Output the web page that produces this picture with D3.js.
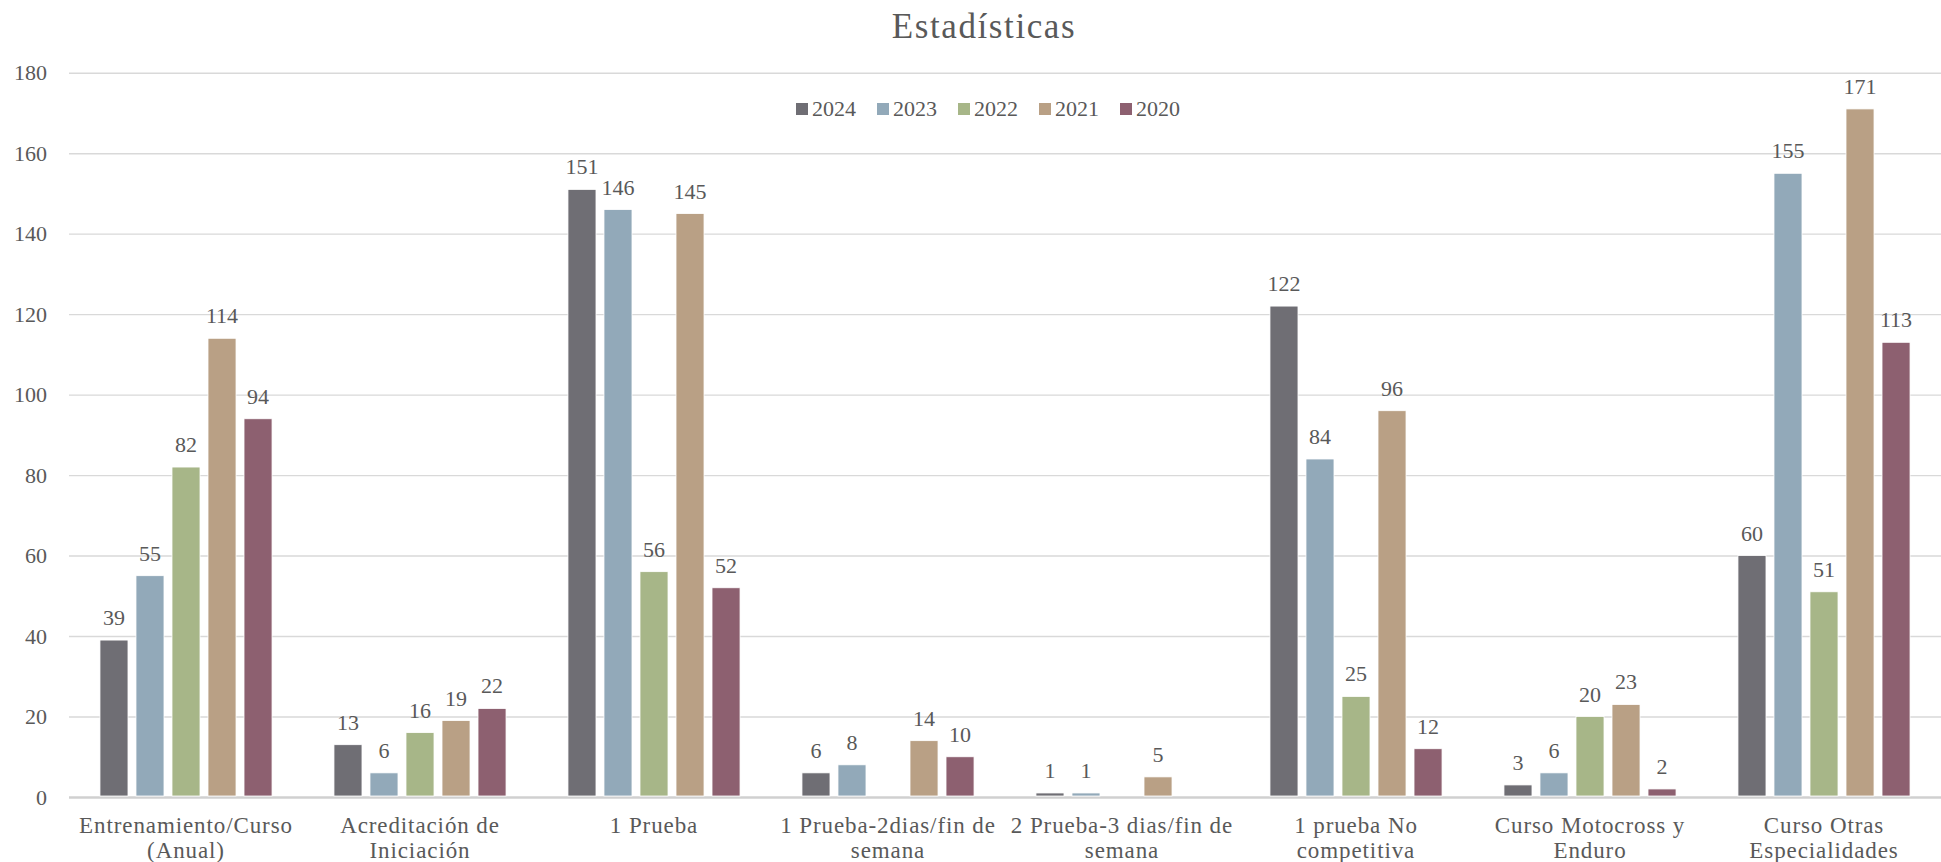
<!DOCTYPE html>
<html>
<head>
<meta charset="utf-8">
<script src="https://cdn.jsdelivr.net/npm/d3@7"></script>
<style>
  body { margin: 0; background: #fff; overflow: hidden; }
  text { font-family: "Liberation Serif", "DejaVu Serif", serif; fill: #595959; }
</style>
</head>
<body>
<script>
// chart data
let categories = [
  ["Entrenamiento/Curso", "(Anual)"],
  ["Acreditación de", "Iniciación"],
  ["1 Prueba"],
  ["1 Prueba-2dias/fin de", "semana"],
  ["2 Prueba-3 dias/fin de", "semana"],
  ["1 prueba No", "competitiva"],
  ["Curso Motocross y", "Enduro"],
  ["Curso Otras", "Especialidades"]
]
let years = ["2024", "2023", "2022", "2021", "2020"]
let v2024 = [39, 13, 151, 6, 1, 122, 3, 60]
let v2023 = [55, 6, 146, 8, 1, 84, 6, 155]
let v2022 = [82, 16, 56, null, null, 25, 20, 51]
let v2021 = [114, 19, 145, 14, 5, 96, 23, 171]
let v2020 = [94, 22, 52, 10, null, 12, 2, 113]
let yTicks = [0, 20, 40, 60, 80, 100, 120, 140, 160, 180]

let colorMap = ['#6f6e74', '#92a9b9', '#a7b688', '#b9a085', '#8d6070']
let series = [v2024, v2023, v2022, v2021, v2020]

let width = 1941, height = 862
let plotLeft = 69, plotRight = 1941

let svg = d3.select('body').append('svg')
  .attr('width', width).attr('height', height)

// title
svg.append('text')
  .attr('x', 984).attr('y', 38)
  .attr('text-anchor', 'middle')
  .style('font-size', '35px')
  .style('letter-spacing', '1.6px')
  .text('Estadísticas')

// scales
let x0 = d3.scaleBand()
  .domain(d3.range(categories.length))
  .range([plotLeft, plotRight])
let x1 = d3.scaleBand()
  .domain(years)
  .range([0, x0.bandwidth()])
  .paddingInner(0.222).paddingOuter(0.86)
let y = d3.scaleLinear().domain([0, 180]).range([797, 72.7])

// gridlines + y axis
let yAxis = svg.append('g')
  .attr('transform', 'translate(' + plotLeft + ',0)')
  .call(d3.axisLeft(y).tickValues(yTicks).tickSize(-(plotRight - plotLeft)).tickPadding(22))
yAxis.select('.domain').remove()
yAxis.selectAll('.tick line').attr('stroke', '#d9d9d9').attr('stroke-width', 1.4)
yAxis.selectAll('.tick text').style('font-size', '22px').attr('fill', '#595959')
yAxis.selectAll('.tick').filter(d => d == 0).select('line')
  .attr('stroke', '#d0d0d0').attr('stroke-width', 2.4)

// bars: one group per category, one entry per year
let groups = svg.selectAll('g.group')
  .data(categories).enter().append('g')
  .attr('class', 'group')
  .attr('transform', (d, i) => 'translate(' + x0(i) + ',0)')

let items = groups.selectAll('g.item')
  .data((d, i) => years.map((yr, k) => ({year: yr, k: k, value: series[k][i]}))
                       .filter(e => e.value != null))
  .enter().append('g').attr('class', 'item')

items.append('rect')
  .attr('x', d => x1(d.year))
  .attr('width', x1.bandwidth())
  .attr('y', d => y(d.value))
  .attr('height', d => y(0) - 1 - y(d.value))
  .attr('fill', d => colorMap[d.k])
  .attr('stroke', '#ffffff').attr('stroke-width', 0.8)

items.append('text')
  .attr('x', d => x1(d.year) + x1.bandwidth() / 2)
  .attr('y', d => y(d.value) - 15)
  .attr('text-anchor', 'middle')
  .style('font-size', '22px')
  .attr('fill', '#404040')
  .text(d => d.value)

// category labels
categories.forEach((lines, i) => {
  let t = svg.append('text')
    .attr('text-anchor', 'middle')
    .style('font-size', '23px')
    .style('letter-spacing', '0.9px')
  lines.forEach((ln, j) => {
    t.append('tspan')
      .attr('x', x0(i) + x0.bandwidth() / 2)
      .attr('y', 833 + j * 25)
      .text(ln)
  })
})

// legend
let legend = svg.append('g').attr('transform', 'translate(796,109)')
years.forEach((yr, k) => {
  let g = legend.append('g').attr('transform', 'translate(' + (k * 81) + ',0)')
  g.append('rect').attr('x', 0).attr('y', -6).attr('width', 12).attr('height', 12)
    .attr('fill', colorMap[k])
  g.append('text').attr('x', 16).attr('y', 7)
    .style('font-size', '22px')
    .text(yr)
})
</script>
</body>
</html>
